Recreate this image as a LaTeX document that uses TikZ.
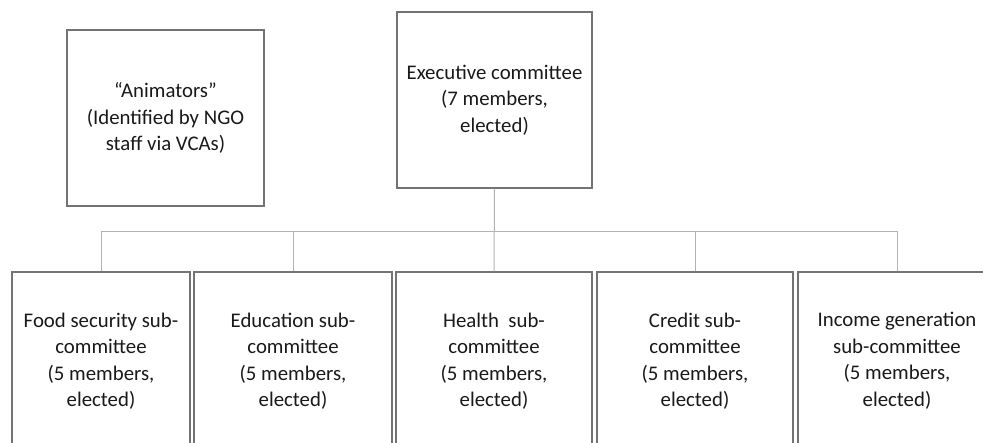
\documentclass[tikz,border=0pt]{standalone}
\usepackage{fontspec}
\setmainfont{Carlito}
\usetikzlibrary{positioning}

\begin{document}
\begin{tikzpicture}[x=1pt,y=-1pt,
                    box/.style={draw=black!55,line width=1.2pt,align=center,
                                text=black!90,font=\fontsize{20.8}{26.5}\selectfont,
                                inner sep=0pt,minimum height=176pt},
                    link/.style={draw=black!30,line width=1pt}]
   \useasboundingbox (0,0) rectangle (983,443);
   \clip (0,0) rectangle (983,443);
   % top row
   \node [box,minimum width=197pt] (animators) at (165.5,118)
         {“Animators”\\(Identified by NGO\\staff via VCAs)};
   \node [box,minimum width=195pt] (exec) at (494.5,100)
         {Executive committee\\(7 members,\\elected)};
   % sub-committees
   \node [box,minimum width=178pt,minimum height=178pt] (food) at (101,361)
         {Food security sub-\\committee\\(5 members,\\elected)};
   \node [box,minimum width=198pt,minimum height=178pt] (edu) at (293,361)
         {Education sub-\\committee\\(5 members,\\elected)};
   \node [box,minimum width=196pt,minimum height=178pt] (health) at (494,361)
         {Health\ \ sub-\\committee\\(5 members,\\elected)};
   \node [box,minimum width=196pt,minimum height=178pt] (credit) at (695,361)
         {Credit sub-\\committee\\(5 members,\\elected)};
   \node [box,minimum width=198pt,minimum height=178pt] (income) at (897,361)
         {Income generation\\sub-committee\\(5 members,\\elected)};
   % connectors
   \coordinate (bus) at (0,232);
   \draw [link] (food.north) |- (bus -| income.north) -- (income.north);
   \foreach \sub in {edu,credit}
      \draw [link] (\sub.north) -- (\sub.north |- bus);
   \draw [link] (exec.south) -- (health.north);
\end{tikzpicture}
\end{document}
